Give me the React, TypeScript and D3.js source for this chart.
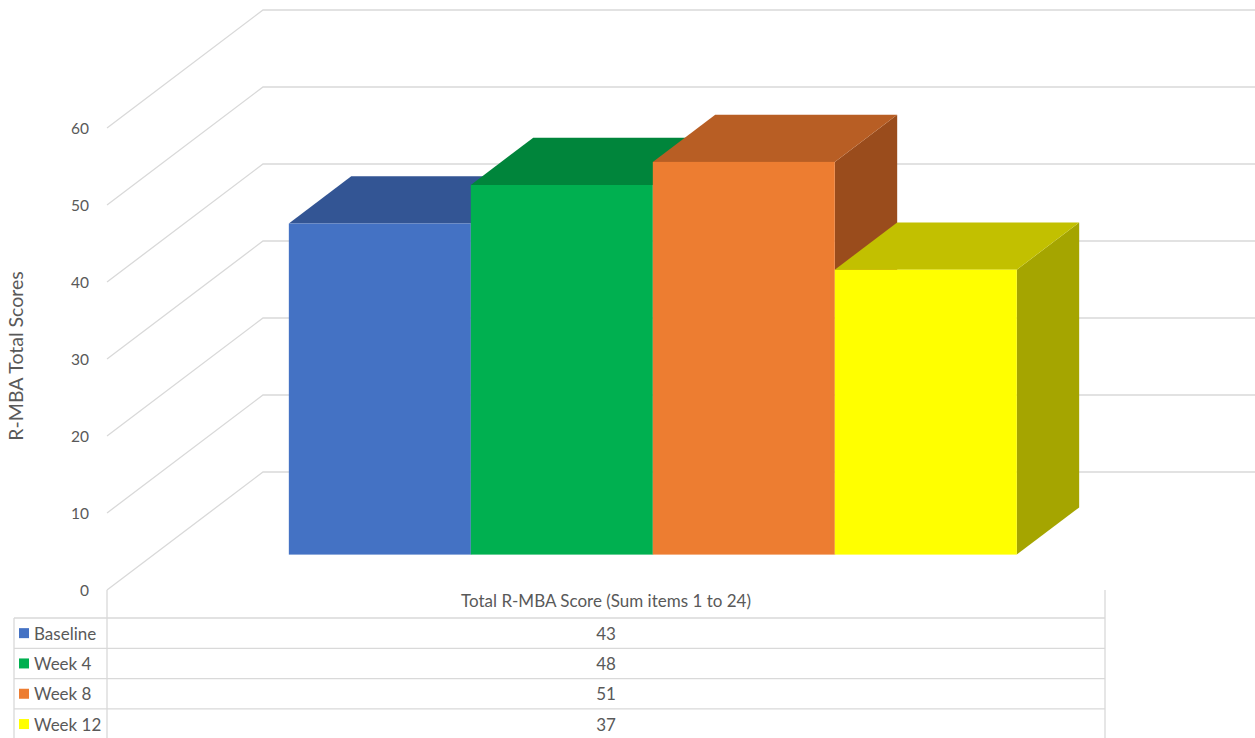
import React from "react";
import * as d3 from "d3";

// Series shown as 3-D columns and as rows of the data table
const seriesNames = ["Baseline", "Week 4", "Week 8", "Week 12"];
const seriesValues = [43, 48, 51, 37];
const categoryLabel = "Total R-MBA Score (Sum items 1 to 24)";
const yTicks = [0, 10, 20, 30, 40, 50, 60];
const frontColors = ["#4472C4", "#00B050", "#ED7D31", "#FFFF00"];
const topColors = ["#335594", "#00853B", "#B85E24", "#C2C000"];
const sideColors = ["#2B4A86", "#006F33", "#9A4C1C", "#A5A500"];

const W = 1255;
const H = 738;
const FONT = "Lato, 'Open Sans', sans-serif";
const TEXT = "#595959";
const GRID = "#D9D9D9";

export default function App() {
  // plot geometry: front plane of the floor and the oblique depth vector
  const left = 107;
  const right = 1105;
  const floorY = 590;
  const depthX = 156;
  const depthY = -118;
  const barFront = 0.3;
  const barBack = 0.7;

  const y = d3.scaleLinear().domain([0, 60]).range([0, 462]);
  const x = d3
    .scaleBand<string>()
    .domain(seriesNames)
    .range([left, right])
    .paddingInner(0)
    .paddingOuter(0.742);

  const bx = depthX * barFront;
  const by = depthY * barFront;
  const ddx = depthX * (barBack - barFront);
  const ddy = depthY * (barBack - barFront);
  const base = floorY + by;

  const pts = (p: [number, number][]) => p.map((q) => q.join(",")).join(" ");

  const rowTop = 618;
  const rowH = 30.3;

  return (
    <svg
      width={W}
      height={H}
      style={{ position: "absolute", left: 0, top: 0, background: "#fff" }}
      fontFamily={FONT}
    >
      <rect width={W} height={H} fill="#fff" />
      {/* walls: diagonal side-wall lines and horizontal back-wall lines */}
      {yTicks.map((t) => {
        const fy = floorY - y(t);
        const by2 = fy + depthY;
        return (
          <g key={t}>
            <polyline
              points={pts([
                [left, fy],
                [left + depthX, by2],
                [W + 20, by2],
              ])}
              fill="none"
              stroke={GRID}
              strokeWidth={1.3}
            />
            <text
              x={89}
              y={fy}
              textAnchor="end"
              dominantBaseline="central"
              fontSize={15.5}
              fill={TEXT}
            >
              {t}
            </text>
          </g>
        );
      })}

      {/* columns, painted left to right so each front face hides the previous side */}
      {seriesNames.map((s, i) => {
        const x0 = (x(s) as number) + bx;
        const w = x.bandwidth();
        const h = y(seriesValues[i]);
        const t = base - h;
        return (
          <g key={s}>
            <polygon
              points={pts([
                [x0 + w, t],
                [x0 + w + ddx, t + ddy],
                [x0 + w + ddx, base + ddy],
                [x0 + w, base],
              ])}
              fill={sideColors[i]}
            />
            <polygon
              points={pts([
                [x0, t],
                [x0 + w, t],
                [x0 + w + ddx, t + ddy],
                [x0 + ddx, t + ddy],
              ])}
              fill={topColors[i]}
            />
            <rect x={x0} y={t} width={w} height={h} fill={frontColors[i]} />
          </g>
        );
      })}

      {/* axis title */}
      <text
        transform="translate(23,356) rotate(-90)"
        textAnchor="middle"
        fontSize={19.5}
        fill={TEXT}
      >
        R-MBA Total Scores
      </text>

      {/* data table */}
      <g stroke={GRID} strokeWidth={1.3}>
        <line x1={left} x2={left} y1={floorY} y2={H} />
        <line x1={right} x2={right} y1={floorY} y2={H} />
        <line x1={14} x2={14} y1={rowTop} y2={H} />
        {seriesNames.map((s, i) => (
          <line
            key={s}
            x1={14}
            x2={right}
            y1={rowTop + i * rowH}
            y2={rowTop + i * rowH}
          />
        ))}
      </g>
      <text
        x={(left + right) / 2}
        y={600}
        textAnchor="middle"
        dominantBaseline="central"
        fontSize={17}
        fill={TEXT}
      >
        {categoryLabel}
      </text>
      {seriesNames.map((s, i) => {
        const cy = rowTop + i * rowH + rowH / 2;
        return (
          <g key={s}>
            <rect x={19} y={cy - 5} width={10} height={10} fill={frontColors[i]} />
            <text
              x={34}
              y={cy}
              dominantBaseline="central"
              fontSize={17}
              fill={TEXT}
            >
              {s}
            </text>
            <text
              x={(left + right) / 2}
              y={cy}
              textAnchor="middle"
              dominantBaseline="central"
              fontSize={17}
              fill={TEXT}
            >
              {seriesValues[i]}
            </text>
          </g>
        );
      })}
    </svg>
  );
}
